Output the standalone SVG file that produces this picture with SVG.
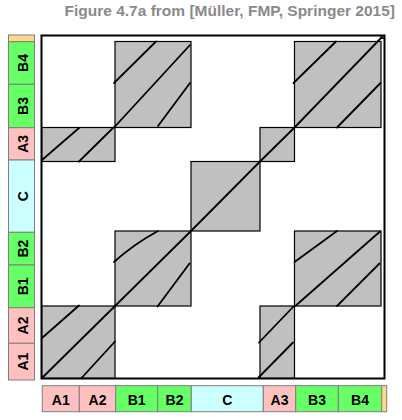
<svg xmlns="http://www.w3.org/2000/svg" width="402" height="420" viewBox="0 0 402 420">
<style>
.title{font-family:"Liberation Sans",Arial,sans-serif;font-weight:bold;font-size:15.5px;fill:#8a8a8a}
.lbl{font-family:"Liberation Sans",Arial,sans-serif;font-weight:bold;font-size:14px;fill:#000;text-anchor:middle}
.seg{stroke:#7f7f7f;stroke-width:1}
.a{fill:#ffc0c0}
.b{fill:#66ff66}
.c{fill:#ccffff}
.y{fill:#ffd98a}
.blk{fill:#c0c0c0;stroke:#000;stroke-width:1.2}
.ln{fill:none;stroke:#000;stroke-width:1.8;stroke-linecap:round}
</style>
<rect width="402" height="420" fill="#fff"/>
<text class="title" x="395" y="16" text-anchor="end">Figure 4.7a from [Müller, FMP, Springer 2015]</text>

<g id="frame">
<rect x="41.5" y="35.5" width="343" height="343" fill="#fff" stroke="#000" stroke-width="2"/>
</g>

<g id="blocks">
<rect id="blk-A3-A12" class="blk" x="42" y="127.5" width="73" height="34"/>
<rect id="blk-B34-B12" class="blk" x="115" y="41.5" width="76" height="86"/>
<rect id="blk-B34-B34" class="blk" x="294.5" y="41.5" width="86.5" height="86"/>
<rect id="blk-A3-A3" class="blk" x="260" y="127.5" width="34.5" height="34"/>
<rect id="blk-C-C" class="blk" x="191" y="161.5" width="69" height="69.5"/>
<rect id="blk-B12-B12" class="blk" x="115" y="231" width="76" height="75"/>
<rect id="blk-B12-B34" class="blk" x="294.5" y="231" width="86.5" height="75"/>
<rect id="blk-A12-A12" class="blk" x="42" y="306" width="73" height="72"/>
<rect id="blk-A12-A3" class="blk" x="260" y="306" width="34.5" height="72"/>
</g>

<g id="connectors">
<polyline class="ln" points="42,378 115,306 191,231 260,161.5 294.5,127.5 382,37"/>
<line class="ln" x1="42" y1="338" x2="79" y2="305.5"/>
<line class="ln" x1="81.5" y1="378" x2="115" y2="341.5"/>
<line class="ln" x1="42" y1="160" x2="79" y2="128"/>
<line class="ln" x1="79" y1="161.5" x2="113.5" y2="127.5"/>
<line class="ln" x1="114" y1="83" x2="156" y2="41.5"/>
<line class="ln" x1="114.5" y1="127" x2="190" y2="45"/>
<line class="ln" x1="158" y1="126" x2="190" y2="83"/>
<line class="ln" x1="293.5" y1="83" x2="336" y2="41.5"/>
<line class="ln" x1="337" y1="127.5" x2="380.5" y2="83"/>
<path class="ln" d="M114,262 Q134,244 158,231"/>
<line class="ln" x1="157.5" y1="306.5" x2="189.5" y2="263.5"/>
<line class="ln" x1="294.5" y1="262" x2="337" y2="231"/>
<line class="ln" x1="295.3" y1="306" x2="380" y2="231.5"/>
<line class="ln" x1="337" y1="306" x2="379.5" y2="263.5"/>
<line class="ln" x1="259" y1="342.5" x2="293.5" y2="306.5"/>
<line class="ln" x1="258.5" y1="377.5" x2="293" y2="342.5"/>
<rect x="381" y="35.5" width="3" height="3" fill="none" stroke="#000" stroke-width="1"/>
</g>

<g id="axis-left">
<rect class="seg y" x="8.5" y="35" width="26" height="6.7"/>
<rect class="seg b" x="8.5" y="41.7" width="26" height="42.6"/>
<rect class="seg b" x="8.5" y="84.3" width="26" height="43.4"/>
<rect class="seg a" x="8.5" y="127.7" width="26" height="32.3"/>
<rect class="seg c" x="8.5" y="160" width="26" height="72.3"/>
<rect class="seg b" x="8.5" y="232.3" width="26" height="32.7"/>
<rect class="seg b" x="8.5" y="265" width="26" height="42.7"/>
<rect class="seg a" x="8.5" y="307.7" width="26" height="35.6"/>
<rect class="seg a" x="8.5" y="343.3" width="26" height="36.7"/>
<text class="lbl" transform="translate(28.3,63) rotate(-90)">B4</text>
<text class="lbl" transform="translate(28.3,106) rotate(-90)">B3</text>
<text class="lbl" transform="translate(28.3,143.8) rotate(-90)">A3</text>
<text class="lbl" transform="translate(28.3,196.1) rotate(-90)">C</text>
<text class="lbl" transform="translate(28.3,248.6) rotate(-90)">B2</text>
<text class="lbl" transform="translate(28.3,286.3) rotate(-90)">B1</text>
<text class="lbl" transform="translate(28.3,325.5) rotate(-90)">A2</text>
<text class="lbl" transform="translate(28.3,361.6) rotate(-90)">A1</text>
</g>

<g id="axis-bottom">
<rect class="seg a" x="42.3" y="385.7" width="37" height="26"/>
<rect class="seg a" x="79.3" y="385.7" width="36.4" height="26"/>
<rect class="seg b" x="115.7" y="385.7" width="42" height="26"/>
<rect class="seg b" x="157.7" y="385.7" width="33.6" height="26"/>
<rect class="seg c" x="191.3" y="385.7" width="72" height="26"/>
<rect class="seg a" x="263.3" y="385.7" width="32.4" height="26"/>
<rect class="seg b" x="295.7" y="385.7" width="42.6" height="26"/>
<rect class="seg b" x="338.3" y="385.7" width="43.4" height="26"/>
<rect class="seg y" x="381.7" y="385.7" width="5" height="26"/>
<text class="lbl" x="60.8" y="405">A1</text>
<text class="lbl" x="97.5" y="405">A2</text>
<text class="lbl" x="136.7" y="405">B1</text>
<text class="lbl" x="174.5" y="405">B2</text>
<text class="lbl" x="227.3" y="405">C</text>
<text class="lbl" x="279.5" y="405">A3</text>
<text class="lbl" x="317" y="405">B3</text>
<text class="lbl" x="360" y="405">B4</text>
</g>
</svg>
